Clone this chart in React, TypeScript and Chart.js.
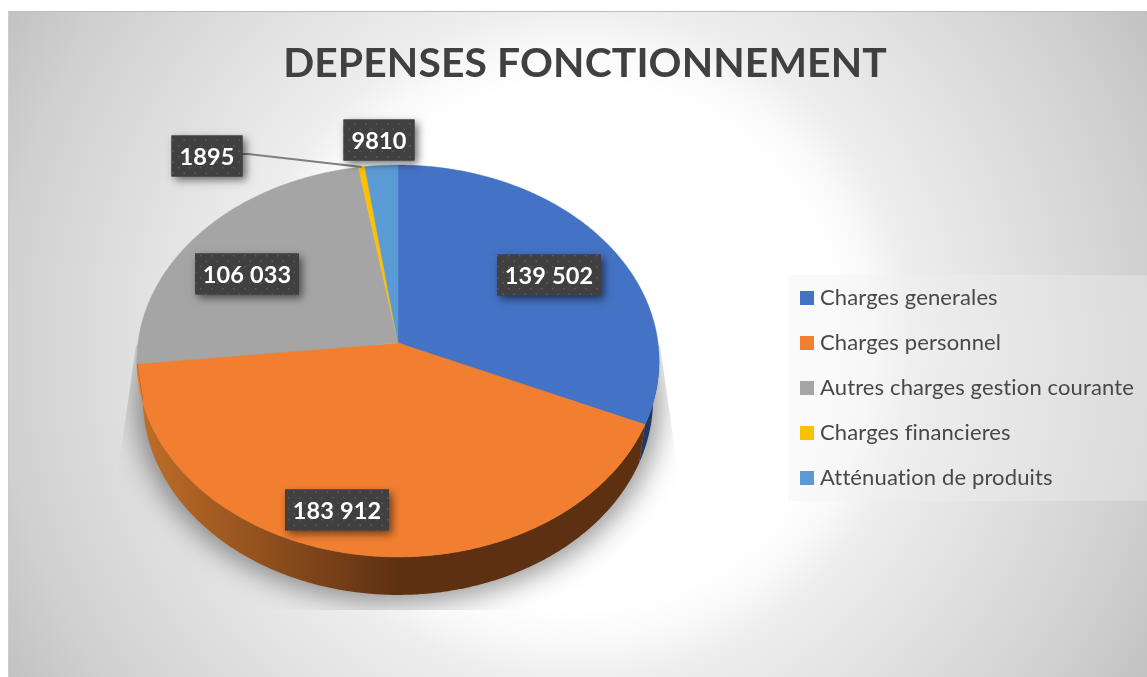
import React, { useEffect, useRef } from "react";
import { Chart, registerables, PieController, ArcElement } from "chart.js";

Chart.register(...registerables);

const categories = ["Charges generales", "Charges personnel", "Autres charges gestion courante", "Charges financieres", "Atténuation de produits"];
const values = [139502, 183912, 106033, 1895, 9810];
const valueLabels = ["139 502", "183 912", "106 033", "1895", "9810"];
const sliceColors = ["#4472C4", "#F27F30", "#A5A5A5", "#FFC000", "#5B9BD5"];
const sideLeftColors = ["#203864", "#C06E28", "#5E5E5E", "#7F6000", "#1F4E79"];
const sideRightColors = ["#203864", "#5E3012", "#5E5E5E", "#7F6000", "#1F4E79"];
const labelCenters = [[549, 275], [337, 510], [247, 274], [207, 156], [379, 140]];
const titleText = "DEPENSES FONCTIONNEMENT";

const TILT = 0.0918;
const VSCALE = 0.7473;
const DEPTH = 38;
const BOTTOM_SHRINK = 0.977;

function project(cx: number, cy: number, r: number, a: number): [number, number] {
  const u = Math.cos(a), v = Math.sin(a);
  const k = 1 - TILT * v;
  return [cx + (r * u) / k, cy + (r * VSCALE * v) / k];
}

class PerspectiveArc extends ArcElement {
  static id = "perspectiveArc";
  draw(ctx: CanvasRenderingContext2D) {
    const self: any = this;
    const { x, y, outerRadius: r, startAngle, endAngle, options } = self;
    const i = self.$context ? self.$context.index : 0;
    const step = Math.PI / 360;
    const n = Math.max(2, Math.ceil((endAngle - startAngle) / step));
    // visible side: the lower part of the rim
    const lo = Math.asin(TILT);
    const hi = Math.PI - lo;
    const s = Math.max(startAngle, lo);
    const e = Math.min(endAngle, hi);
    if (e > s) {
      const rim: [number, number][] = [];
      const m = Math.max(2, Math.ceil((e - s) / step));
      for (let j = 0; j <= m; j++) rim.push(project(x, y, r, s + ((e - s) * j) / m));
      const g = ctx.createLinearGradient(x - r, 0, x, 0);
      g.addColorStop(0, sideLeftColors[i]);
      g.addColorStop(1, sideRightColors[i]);
      ctx.beginPath();
      rim.forEach((p, j) => (j ? ctx.lineTo(p[0], p[1]) : ctx.moveTo(p[0], p[1])));
      for (let j = rim.length - 1; j >= 0; j--) {
        ctx.lineTo(x + (rim[j][0] - x) * BOTTOM_SHRINK, rim[j][1] + DEPTH);
      }
      ctx.closePath();
      ctx.fillStyle = g;
      ctx.fill();
    }
    ctx.beginPath();
    ctx.moveTo(x, y);
    for (let j = 0; j <= n; j++) {
      const p = project(x, y, r, startAngle + ((endAngle - startAngle) * j) / n);
      ctx.lineTo(p[0], p[1]);
    }
    ctx.closePath();
    ctx.fillStyle = options.backgroundColor;
    ctx.fill();
    ctx.strokeStyle = options.backgroundColor;
    ctx.lineWidth = 0.5;
    ctx.stroke();
  }
}

class PerspectivePie extends PieController {
  static id = "perspectivePie";
  static defaults = { dataElementType: "perspectiveArc" };
}

Chart.register(PerspectiveArc as any, PerspectivePie as any);

function swatch(color: string) {
  const c = document.createElement("canvas");
  c.width = 14;
  c.height = 14;
  const x = c.getContext("2d")!;
  x.fillStyle = color;
  x.fillRect(0, 0, 14, 14);
  return c;
}

function dotPattern(ctx: CanvasRenderingContext2D) {
  const c = document.createElement("canvas");
  c.width = 11;
  c.height = 11;
  const x = c.getContext("2d")!;
  x.fillStyle = "#404040";
  x.fillRect(0, 0, 11, 11);
  x.fillStyle = "#5c5c5c";
  x.fillRect(2, 2, 1.5, 1.5);
  x.fillRect(7.5, 7.5, 1.5, 1.5);
  return ctx.createPattern(c, "repeat")!;
}

const backdrop = {
  id: "backdrop",
  afterLayout(chart: any) {
    const a = chart.chartArea;
    a.left = 138; a.right = 658; a.top = 83; a.bottom = 603;
    a.width = 520; a.height = 520;
    const t = chart.titleBlock;
    t.left = 185; t.right = 985; t.top = 39;
    const l = chart.legend;
    l.left = 782; l.top = 264;
  },
  beforeDraw(chart: any) {
    const { ctx, width, height } = chart;
    ctx.letterSpacing = "0.13px";
    ctx.save();
    ctx.fillStyle = "#ffffff";
    ctx.fillRect(0, 0, width, height);
    // chart background
    const g = ctx.createRadialGradient(577, 345, 262, 577, 345, 670);
    g.addColorStop(0, "#ffffff");
    g.addColorStop(0.09, "#f9f9f9");
    g.addColorStop(0.18, "#eeeeee");
    g.addColorStop(0.77, "#d0d0d0");
    g.addColorStop(1, "#c0c0c0");
    ctx.fillStyle = g;
    ctx.fillRect(8, 12, width - 8, height - 12);
    ctx.fillStyle = "#bcbcbc";
    ctx.fillRect(8, 11, width - 8, 1);
    ctx.fillStyle = "#cccccc";
    ctx.fillRect(8, 12, 1, height - 12);
    // legend panel
    ctx.fillStyle = "rgba(240,240,240,0.35)";
    ctx.fillRect(788, 275, 359, 226);
    // pie shadow, clipped the way the source clips it
    ctx.save();
    ctx.beginPath();
    ctx.moveTo(136, 345);
    ctx.lineTo(119, 465);
    ctx.lineTo(100, 610);
    ctx.lineTo(696, 610);
    ctx.lineTo(677, 465);
    ctx.lineTo(660, 345);
    ctx.closePath();
    ctx.clip();
    ctx.shadowColor = "rgba(0,0,0,0.42)";
    ctx.shadowBlur = 28;
    ctx.shadowOffsetX = 3000;
    ctx.beginPath();
    ctx.ellipse(398 - 3000, 402, 262, 200, 0, 0, Math.PI * 2);
    ctx.fillStyle = "#000";
    ctx.fill();
    ctx.restore();
    ctx.restore();
  },
};

const valueBoxes = {
  id: "valueBoxes",
  afterDatasetsDraw(chart: any) {
    const { ctx } = chart;
    const meta = chart.getDatasetMeta(0);
    const pattern = dotPattern(ctx);
    // leader line for the small slice
    const arc = meta.data[3];
    const tip = project(arc.x, arc.y, arc.outerRadius, (arc.startAngle + arc.endAngle) / 2);
    ctx.save();
    ctx.strokeStyle = "#7f7f7f";
    ctx.lineWidth = 2;
    ctx.beginPath();
    ctx.moveTo(labelCenters[3][0] + 35, labelCenters[3][1] - 2);
    ctx.lineTo(labelCenters[3][0] + 41, labelCenters[3][1] - 2);
    ctx.lineTo(tip[0], tip[1]);
    ctx.stroke();
    ctx.restore();
    valueLabels.forEach((text, i) => {
      const [cx, cy] = labelCenters[i];
      const w = text.length > 4 ? 104 : 71;
      const h = 41;
      ctx.save();
      ctx.shadowColor = "rgba(0,0,0,0.55)";
      ctx.shadowBlur = 8;
      ctx.shadowOffsetX = 3;
      ctx.shadowOffsetY = 3;
      ctx.fillStyle = "#404040";
      ctx.fillRect(cx - w / 2, cy - h / 2, w, h);
      ctx.restore();
      ctx.save();
      ctx.fillStyle = pattern;
      ctx.fillRect(cx - w / 2, cy - h / 2, w, h);
      ctx.fillStyle = "#ffffff";
      ctx.font = "bold 23.5px Lato";
      ctx.textAlign = "center";
      ctx.textBaseline = "middle";
      ctx.fillText(text, cx, cy + 1);
      ctx.restore();
    });
  },
};

export default function App() {
  const ref = useRef<HTMLCanvasElement>(null);
  useEffect(() => {
    document.body.style.margin = "0";
    document.body.style.overflow = "hidden";
    const chart = new Chart(ref.current!, {
      type: "perspectivePie" as any,
      data: {
        labels: categories,
        datasets: [{ data: values, backgroundColor: sliceColors, borderWidth: 0 }],
      },
      plugins: [backdrop, valueBoxes],
      options: {
        animation: false,
        responsive: false,
        events: [],
        layout: { padding: 0 },
        plugins: {
          tooltip: { enabled: false },
          title: {
            display: true,
            text: titleText,
            color: "#404040",
            font: { family: "Lato", size: 40.8, weight: "bold" },
            padding: 0,
          },
          legend: {
            display: true,
            position: "right",
            align: "start",
            labels: {
              color: "#484848",
              font: { family: "Lato", size: 22 },
              usePointStyle: true,
              pointStyleWidth: 4,
              boxHeight: 14,
              padding: 23,
              generateLabels: () =>
                categories.map((text, i) => ({
                  text,
                  pointStyle: swatch(sliceColors[i]),
                  fontColor: "#484848",
                  hidden: false,
                  index: i,
                  lineWidth: 0,
                })),
            },
          },
        },
      } as any,
    });
    return () => chart.destroy();
  }, []);
  return <canvas ref={ref} width={1147} height={677} style={{ display: "block" }} />;
}
